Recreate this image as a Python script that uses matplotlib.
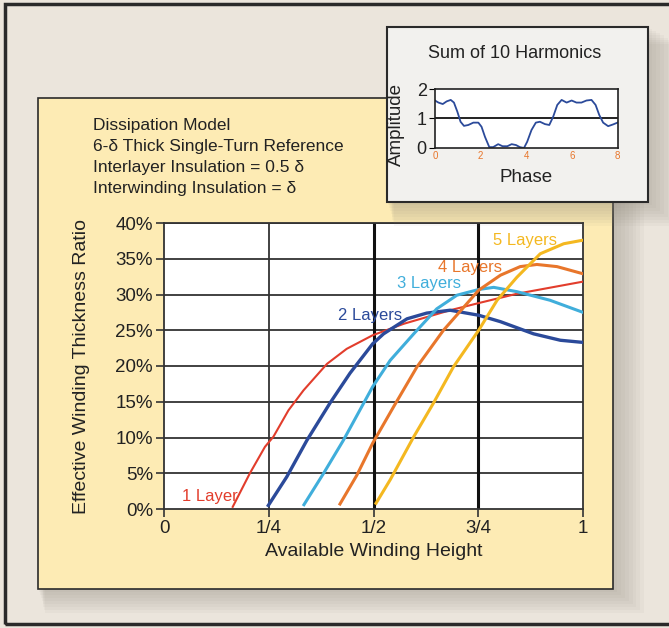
import matplotlib.pyplot as plt
from matplotlib.patches import Rectangle
from matplotlib.ticker import FuncFormatter

plt.rcParams['font.family'] = ['Liberation Sans Narrow', 'Liberation Sans', 'DejaVu Sans']

# main chart data (x = fraction of available winding height, y = %)
x_1 = [0.164, 0.205, 0.241, 0.261, 0.297, 0.333, 0.389, 0.436, 0.498, 0.572, 0.683, 0.751, 0.842, 1.0]
y_1 = [0.3, 5.0, 8.7, 10.1, 13.8, 16.6, 20.3, 22.4, 24.3, 25.9, 27.8, 28.8, 30.1, 31.8]

x_2 = [0.249, 0.293, 0.341, 0.396, 0.444, 0.498, 0.524, 0.580, 0.627, 0.683, 0.751, 0.803, 0.882, 0.946, 1.0]
y_2 = [0.5, 4.5, 9.6, 14.8, 19.0, 23.1, 24.5, 26.6, 27.4, 27.8, 27.1, 26.2, 24.5, 23.6, 23.3]

x_3 = [0.334, 0.381, 0.428, 0.498, 0.540, 0.596, 0.651, 0.699, 0.751, 0.787, 0.842, 0.921, 1.0]
y_3 = [0.6, 5.0, 9.6, 17.1, 20.8, 24.5, 28.0, 29.9, 30.7, 31.0, 30.4, 29.2, 27.5]

x_4 = [0.420, 0.460, 0.498, 0.548, 0.604, 0.667, 0.751, 0.803, 0.850, 0.890, 0.938, 1.0]
y_4 = [0.7, 4.7, 9.2, 14.3, 19.9, 25.0, 30.6, 32.7, 33.9, 34.2, 33.9, 32.9]

x_5 = [0.506, 0.540, 0.596, 0.643, 0.691, 0.751, 0.795, 0.842, 0.898, 0.954, 1.0]
y_5 = [0.8, 4.1, 10.1, 14.8, 19.9, 25.0, 29.2, 32.4, 35.7, 37.1, 37.6]

layer_names = ['1 Layer', '2 Layers', '3 Layers', '4 Layers', '5 Layers']
layer_colors = ['#e23d2c', '#2b4a9a', '#40aedb', '#e8762b', '#f4b820']
label_x = [0.043, 0.415, 0.556, 0.654, 0.785]
label_y = [1.8, 27.0, 31.5, 33.8, 37.5]

x_ticks = [0, 0.25, 0.5, 0.75, 1]
x_tick_labels = ['0', '1/4', '1/2', '3/4', '1']
y_ticks = [0, 5, 10, 15, 20, 25, 30, 35, 40]

# inset: sum of 10 harmonics
phase = [0, 0.15, 0.34, 0.51, 0.69, 0.83, 0.98, 1.12, 1.27, 1.46, 1.68, 1.90, 2.04, 2.19, 2.38,
         2.55, 2.77, 2.96, 3.17, 3.36, 3.55, 3.72, 3.90, 4.04, 4.23, 4.42, 4.60, 4.82, 5.01,
         5.18, 5.36, 5.55, 5.77, 5.99, 6.20, 6.42, 6.64, 6.86, 7.04, 7.20, 7.37, 7.59, 7.81, 8.0]
amplitude = [1.61, 1.54, 1.49, 1.58, 1.63, 1.54, 1.23, 0.89, 0.75, 0.78, 0.86, 0.86, 0.72, 0.38, 0.03,
             0.03, 0.13, 0.06, 0.06, 0.13, 0.10, 0.03, 0.0, 0.21, 0.61, 0.86, 0.89, 0.81, 0.78,
             1.06, 1.46, 1.63, 1.54, 1.61, 1.54, 1.54, 1.61, 1.63, 1.46, 1.12, 0.86, 0.74, 0.80, 0.86]

W, H = 669, 628
fig = plt.figure(figsize=(W / 100, H / 100), dpi=100)
fig.patch.set_facecolor('#ebe5dc')


def fx(px):
    return px / W


def fy(py):
    return 1 - py / H


def soft_shadow(x0, y0, w, h, z):
    for i in range(8):
        d = 3 + i * 3
        fig.patches.append(Rectangle((fx(x0 + d * 0.3), fy(y0 + h + d)), fx(w + d), (h + d * 0.3) / H,
                                     transform=fig.transFigure, facecolor='#8f877c', edgecolor='none',
                                     alpha=0.06, zorder=z))


# outer frame
fig.patches.append(Rectangle((fx(5), fy(624)), fx(700), 620 / H, transform=fig.transFigure,
                             facecolor='none', edgecolor='#2a2a2a', linewidth=2.5, zorder=0.5))
soft_shadow(38, 98, 575, 491, 0.6)
fig.patches.append(Rectangle((fx(38), fy(589)), fx(575), 491 / H, transform=fig.transFigure,
                             facecolor='#fdebb4', edgecolor='#2a2a2a', linewidth=1.2, zorder=0.7))

ax = fig.add_axes([fx(164), fy(509), fx(583 - 164), (509 - 223) / H])
ax.set_zorder(2)
ax.set_facecolor('white')
ax.set_xlim(0, 1)
ax.set_ylim(0, 40)
ax.set_xticks(x_ticks)
ax.set_xticklabels(x_tick_labels)
ax.set_yticks(y_ticks)
ax.yaxis.set_major_formatter(FuncFormatter(lambda v, p: f'{v:.0f}%'))
ax.tick_params(labelsize=13.5, length=6, width=1.2, color='#333333', labelcolor='#222222', pad=2)
for yv in y_ticks[1:]:
    ax.axhline(yv, color='#333333', linewidth=1.3, zorder=1)
ax.axvline(0.25, color='#333333', linewidth=1.3, zorder=1)
ax.axvline(0.5, color='#111111', linewidth=2.2, zorder=1)
ax.axvline(0.75, color='#111111', linewidth=2.2, zorder=1)
for s in ax.spines.values():
    s.set_color('#333333')
    s.set_linewidth(1.3)

series = [(x_1, y_1, 1.5), (x_2, y_2, 2.4), (x_3, y_3, 2.2), (x_4, y_4, 2.2), (x_5, y_5, 2.2)]
for (xs, ys, lw), c in zip(series, layer_colors):
    ax.plot(xs, ys, color=c, linewidth=lw, zorder=3)
for name, c, lx, ly in zip(layer_names, layer_colors, label_x, label_y):
    ax.text(lx, ly, name, color=c, fontsize=12, va='center', ha='left', zorder=4)

ax.set_xlabel('Available Winding Height', fontsize=14, color='#222222', labelpad=4)
ax.set_ylabel('Effective Winding Thickness Ratio', fontsize=14, color='#222222')
ax.yaxis.set_label_coords(-0.177, 0.5)

fig.text(fx(93), fy(118), 'Dissipation Model\n6-δ Thick Single-Turn Reference\n'
         'Interlayer Insulation = 0.5 δ\nInterwinding Insulation = δ',
         fontsize=12.5, color='#222222', va='top', ha='left', linespacing=1.5, zorder=3)

# inset box
soft_shadow(387, 27, 261, 175, 4.5)
fig.patches.append(Rectangle((fx(387), fy(202)), fx(261), 175 / H, transform=fig.transFigure,
                             facecolor='#f2f1ee', edgecolor='#2a2a2a', linewidth=1.5, zorder=5))
axi = fig.add_axes([fx(435), fy(148), fx(617.5 - 435), (148 - 89) / H])
axi.set_zorder(6)
axi.set_facecolor('white')
axi.set_xlim(0, 8)
axi.set_ylim(0, 2)
axi.axhline(1, color='#111111', linewidth=1.3)
axi.plot(phase, amplitude, color='#2b4a9a', linewidth=1.3)
axi.set_xticks([0, 2, 4, 6, 8])
axi.set_yticks([0, 1, 2])
axi.tick_params(axis='x', labelsize=7, labelcolor='#e8762b', length=0, pad=2)
axi.tick_params(axis='y', labelsize=13, labelcolor='#222222', length=4, pad=2)
for s in axi.spines.values():
    s.set_color('#222222')
    s.set_linewidth(1.2)
fig.text(fx(515), fy(54), 'Sum of 10 Harmonics', fontsize=13, color='#222222',
         ha='center', va='center', zorder=7)
axi.set_xlabel('Phase', fontsize=13.5, color='#222222')
axi.xaxis.set_label_coords(0.5, -0.36)
axi.set_ylabel('Amplitude', fontsize=13.5, color='#222222')
axi.yaxis.set_label_coords(-0.165, 0.4)

fig.savefig('out.png', dpi=100, facecolor=fig.get_facecolor())
